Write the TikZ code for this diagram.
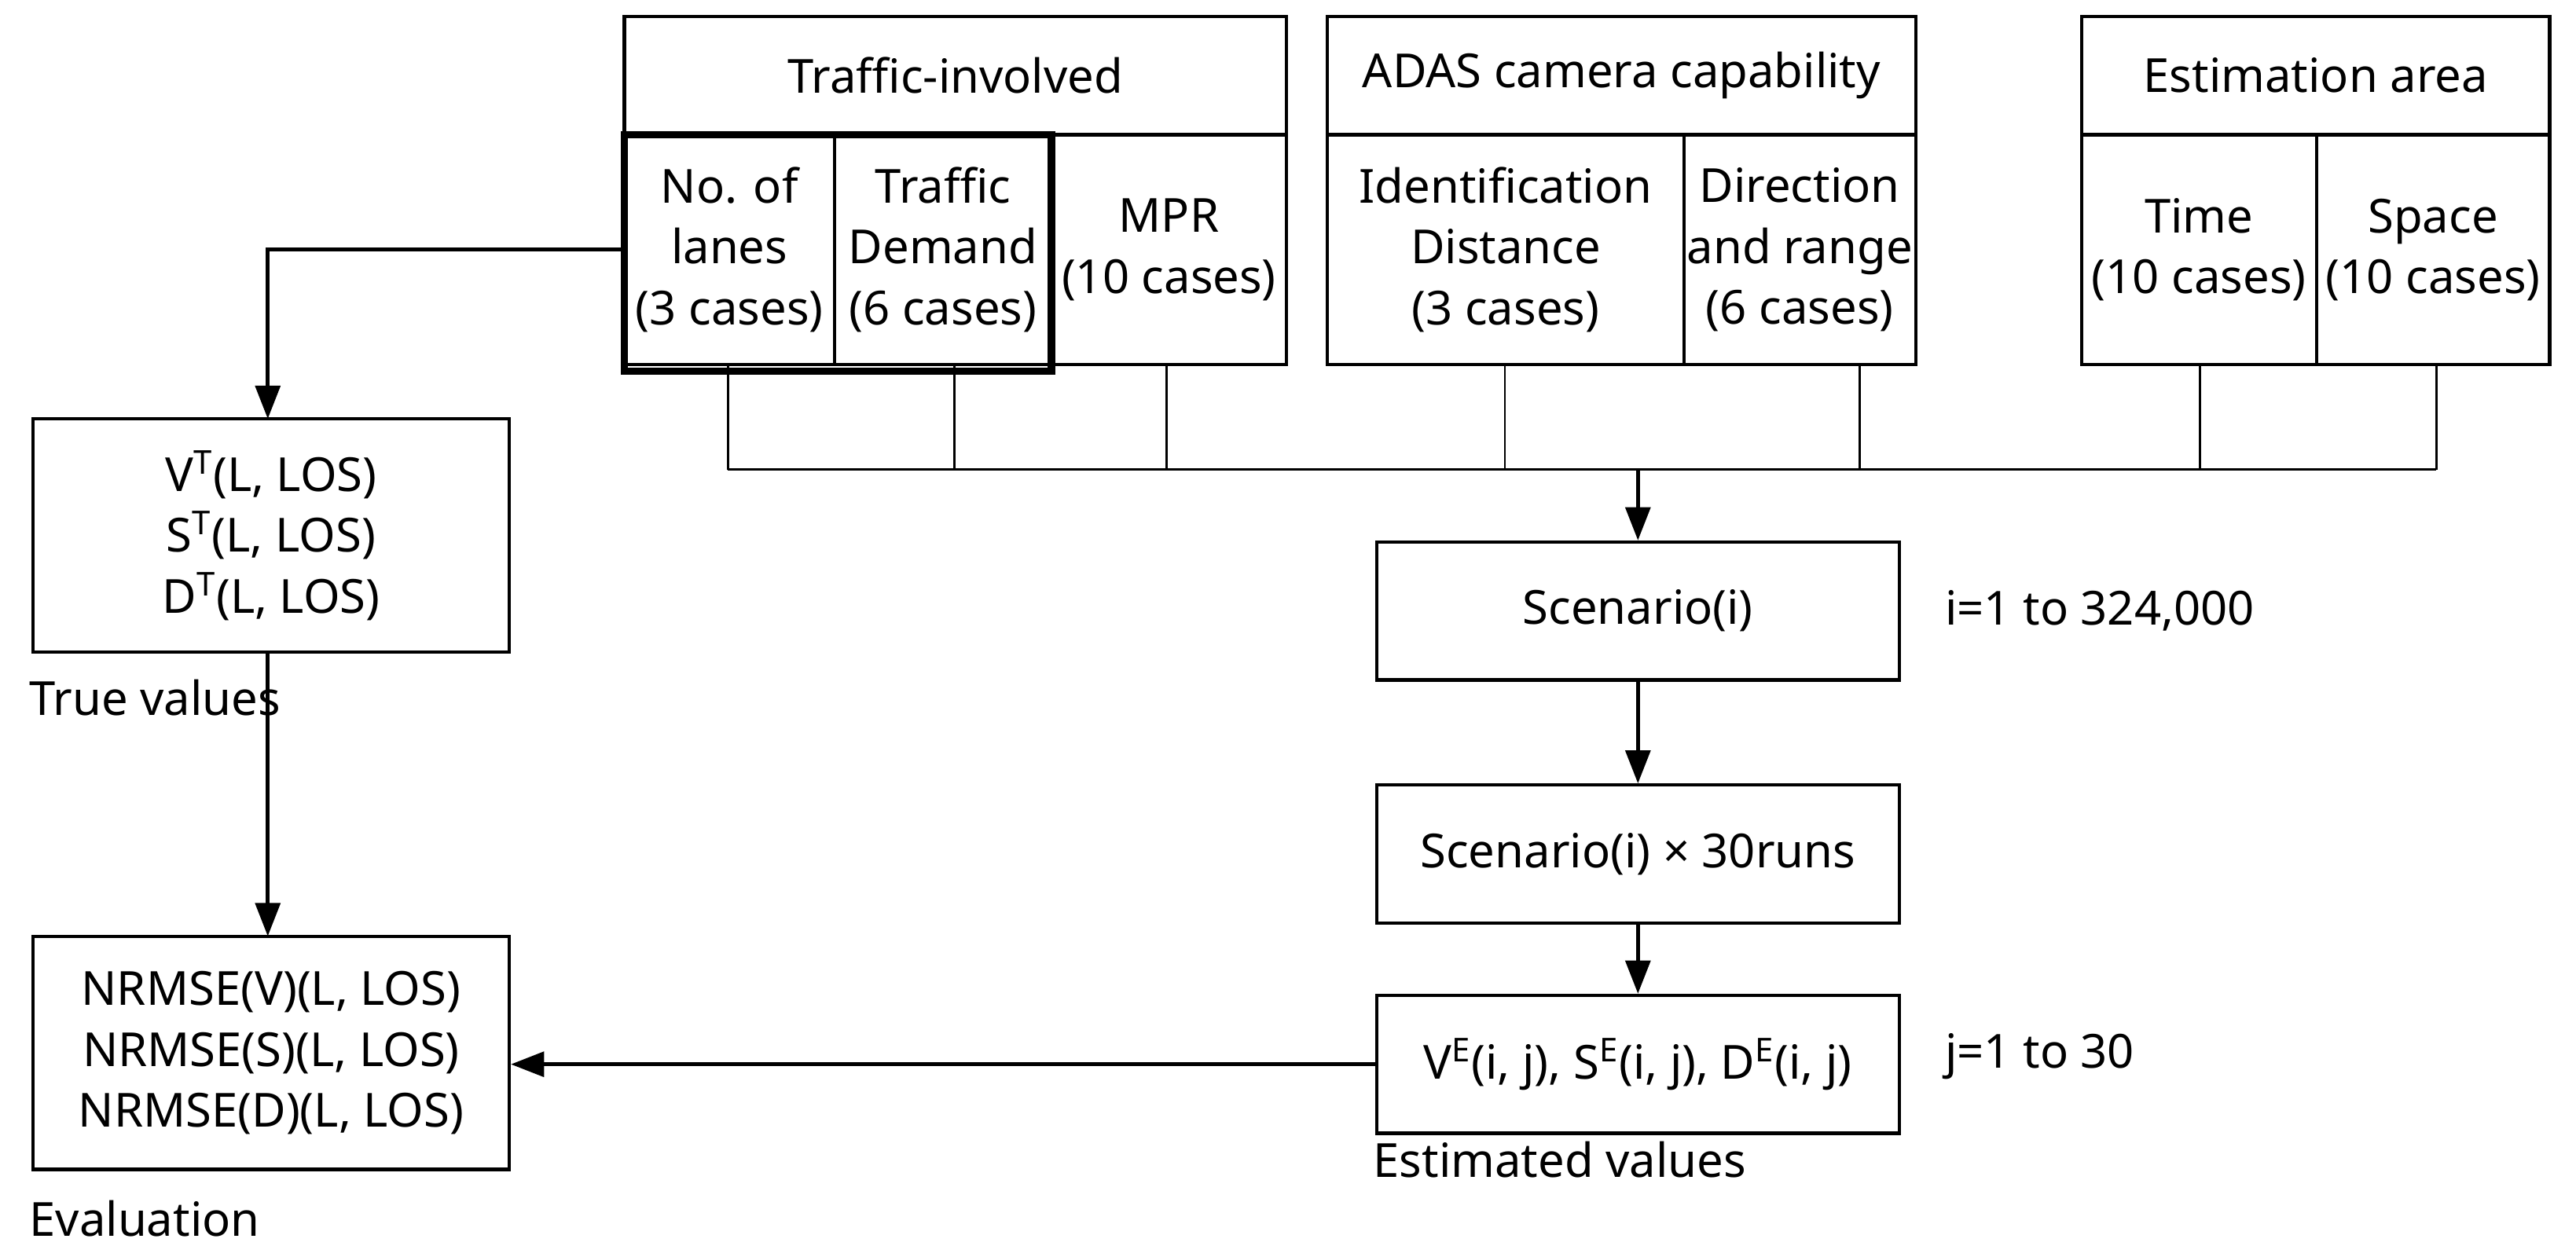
\documentclass[tikz,border=0pt]{standalone}
\usepackage{fontspec}
\setmainfont{Noto Sans}
\usetikzlibrary{arrows.meta}
\begin{document}
\begin{tikzpicture}[x=0.0209cm,y=-0.0209cm,
  bx/.style={draw,line width=1.2pt,inner sep=0pt},
  t/.style={font=\fontsize{17}{22}\selectfont,align=center},
  lb/.style={font=\fontsize{17}{22}\selectfont\bfseries,anchor=west},
  ln/.style={line width=0.8pt},
  ar/.style={line width=1.3pt,-{Triangle[length=12pt,width=9pt]}}]
\useasboundingbox (0,0) rectangle (1568,765);
% Traffic-involved
\node[bx,minimum width=403*0.0209cm,minimum height=72*0.0209cm,t] (ti) at (581.5,46) {Traffic-involved};
\node[bx,minimum width=128*0.0209cm,minimum height=140*0.0209cm,t] (nl) at (444,152) {No. of\\lanes\\(3 cases)};
\node[bx,minimum width=132*0.0209cm,minimum height=140*0.0209cm,t] (td) at (574,152) {Traffic\\Demand\\(6 cases)};
\node[bx,minimum width=143*0.0209cm,minimum height=140*0.0209cm,t] (mpr) at (711.5,152) {MPR\\(10 cases)};
\draw[line width=2.6pt] (380,82) rectangle (640,226);
% ADAS
\node[bx,minimum width=358*0.0209cm,minimum height=72*0.0209cm,t] (adas) at (987,46) {ADAS camera capability};
\node[bx,minimum width=217*0.0209cm,minimum height=140*0.0209cm,t] (id) at (916.5,152) {Identification\\Distance\\(3 cases)};
\node[bx,minimum width=141*0.0209cm,minimum height=140*0.0209cm,t] (dr) at (1095.5,152) {Direction\\and range\\(6 cases)};
% Estimation
\node[bx,minimum width=285*0.0209cm,minimum height=72*0.0209cm,t] (ea) at (1409.5,46) {Estimation area};
\node[bx,minimum width=143*0.0209cm,minimum height=140*0.0209cm,t] (tm) at (1338.5,152) {Time\\(10 cases)};
\node[bx,minimum width=142*0.0209cm,minimum height=140*0.0209cm,t] (sp) at (1481,152) {Space\\(10 cases)};
% connectors
\coordinate (c1) at (443,286); \coordinate (c2) at (1483,286); \coordinate (cm) at (997,286);
\draw[ln] (c1) -- (c2);
\foreach \x in {443,581,710,916,1132,1339,1483} \draw[ln] (\x,222) -- (\x,286);
% middle column
\node[bx,minimum width=318*0.0209cm,minimum height=84*0.0209cm,t] (sc) at (997,372) {Scenario(i)};
\node[bx,minimum width=318*0.0209cm,minimum height=84*0.0209cm,t] (sc30) at (997,520) {Scenario(i) × 30runs};
\node[bx,minimum width=318*0.0209cm,minimum height=84*0.0209cm,t] (ve) at (997,648) {V\textsuperscript{\textbf{E}}(i, j), S\textsuperscript{\textbf{E}}(i, j), D\textsuperscript{\textbf{E}}(i, j)};
\node[t,anchor=west] (n1) at (1178,372) {i=1 to 324,000};
\node[t,anchor=west] (n2) at (1178,643) {j=1 to 30};
\node[lb] (ev) at (830,706) {Estimated values};
\draw[ar] (cm) -- (sc);
\draw[ar] (sc) -- (sc30);
\draw[ar] (sc30) -- (ve);
% left column
\node[bx,minimum width=290*0.0209cm,minimum height=142*0.0209cm,t] (tv) at (165,326) {V\textsuperscript{\textbf{T}}(L, LOS)\\S\textsuperscript{\textbf{T}}(L, LOS)\\D\textsuperscript{\textbf{T}}(L, LOS)};
\node[lb] (tvl) at (12,425) {True values};
\node[bx,minimum width=290*0.0209cm,minimum height=142*0.0209cm,t] (evb) at (165,641) {NRMSE(V)(L, LOS)\\NRMSE(S)(L, LOS)\\NRMSE(D)(L, LOS)};
\node[lb] (evl) at (12,742) {Evaluation};
\draw[ar] (nl.west) -| (163,255);
\draw[ar] (163,397) -- (163,570);
\draw[ar] (ve.west) -- (evb.east |- ve.west);
\end{tikzpicture}
\end{document}
